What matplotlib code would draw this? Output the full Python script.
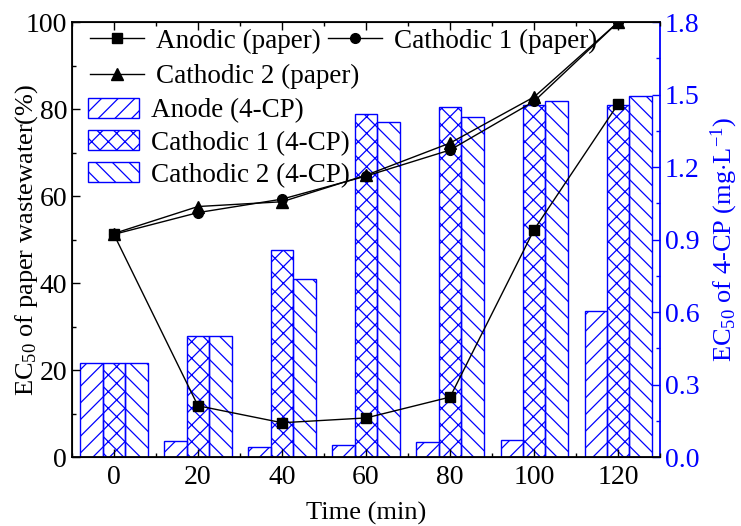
import numpy as np
import matplotlib
matplotlib.use('Agg')
import matplotlib.pyplot as plt
from matplotlib.ticker import MultipleLocator, FormatStrFormatter

plt.rcParams['font.family'] = 'Liberation Serif'
plt.rcParams['mathtext.fontset'] = 'custom'
plt.rcParams['mathtext.rm'] = 'Liberation Serif'
plt.rcParams['mathtext.it'] = 'Liberation Serif:italic'
plt.rcParams['hatch.color'] = 'blue'
plt.rcParams['hatch.linewidth'] = 0.9

time = [0, 20, 40, 60, 80, 100, 120]

# EC50 of paper wastewater (%), left axis
anodic_paper = [51.2, 11.8, 7.9, 9.0, 13.8, 52.3, 81.2]
cathodic1_paper = [51.2, 56.2, 59.3, 64.6, 70.6, 81.8, 100.0]
cathodic2_paper = [51.4, 57.6, 58.7, 64.8, 72.2, 82.8, 100.0]

# EC50 of 4-CP (mg/L), right axis
anode_cp = [0.39, 0.067, 0.043, 0.052, 0.061, 0.070, 0.605]
cathodic1_cp = [0.39, 0.503, 0.855, 1.418, 1.447, 1.456, 1.456]
cathodic2_cp = [0.39, 0.503, 0.739, 1.387, 1.407, 1.473, 1.494]

fig = plt.figure(figsize=(7.41, 5.26), dpi=100)
ax = fig.add_axes([0.097, 0.131, 0.794, 0.827])
ax2 = ax.twinx()

t = np.array(time)
w = 16 / 3
bar_kw = dict(width=w, facecolor='none', edgecolor='blue', linewidth=1.0)
b1 = ax2.bar(t - w, anode_cp, hatch='//', **bar_kw)
b2 = ax2.bar(t, cathodic1_cp, hatch='xx', **bar_kw)
b3 = ax2.bar(t + w, cathodic2_cp, hatch='\\\\', **bar_kw)

# lines drawn above the bars
ax.set_zorder(ax2.get_zorder() + 1)
ax.patch.set_visible(False)

l1, = ax.plot(time, anodic_paper, 'k-s', lw=1, ms=7)
l2, = ax.plot(time, cathodic1_paper, 'k-o', lw=1, ms=7)
l3, = ax.plot(time, cathodic2_paper, 'k-^', lw=1, ms=8)

ax.set_xlim(-10, 130)
ax.set_ylim(0, 100)
ax2.set_ylim(0, 1.8)
ax.set_xticks(time)
ax.yaxis.set_major_locator(MultipleLocator(20))
ax.yaxis.set_minor_locator(MultipleLocator(10))
ax.xaxis.set_minor_locator(MultipleLocator(10))
ax2.yaxis.set_major_locator(MultipleLocator(0.3))
ax2.yaxis.set_minor_locator(MultipleLocator(0.15))
ax2.yaxis.set_major_formatter(FormatStrFormatter('%.1f'))

ax.tick_params(which='both', direction='in', top=True, labelsize=20, width=1)
ax.tick_params(which='major', length=6)
ax.tick_params(which='minor', length=3)
ax.tick_params(axis='x', pad=6)
ax.tick_params(axis='y', right=False)
ax2.tick_params(which='both', direction='in', colors='blue', labelsize=20, width=1)
ax2.tick_params(which='major', length=6)
ax2.tick_params(which='minor', length=3)

for s in ['left', 'top', 'bottom']:
    ax.spines[s].set_linewidth(1.3)
ax2.spines['right'].set_color('blue')
ax2.spines['right'].set_linewidth(1.3)
ax.spines['right'].set_visible(False)

ax.set_xlabel('Time (min)', fontsize=19, labelpad=8)
ax.set_ylabel('EC$_{50}$ of paper wastewater(%)', fontsize=19)
ax.yaxis.set_label_coords(-0.054, 0.5)
ax2.set_ylabel('EC$_{50}$ of 4-CP (mg$\\cdot$L$^{-1}$)', fontsize=19, color='blue', labelpad=6)

leg_kw = dict(frameon=False, fontsize=19.5, loc='center left', borderpad=0,
              borderaxespad=0, handletextpad=0.45)
leg1 = ax.legend([l1, l2], ['Anodic (paper)', 'Cathodic 1 (paper)'], ncol=2,
                 bbox_to_anchor=(0.031, 0.956), handlelength=2.0, columnspacing=0.25,
                 **leg_kw)
ax.add_artist(leg1)
leg2 = ax.legend([l3], ['Cathodic 2 (paper)'], bbox_to_anchor=(0.031, 0.874),
                 handlelength=2.0, **leg_kw)
ax.add_artist(leg2)
ax.legend([b1, b2, b3], ['Anode (4-CP)', 'Cathodic 1 (4-CP)', 'Cathodic 2 (4-CP)'],
          bbox_to_anchor=(0.027, 0.722), handlelength=1.9, handleheight=0.75,
          labelspacing=0.25, **leg_kw)

fig.savefig('out.png', dpi=100)
